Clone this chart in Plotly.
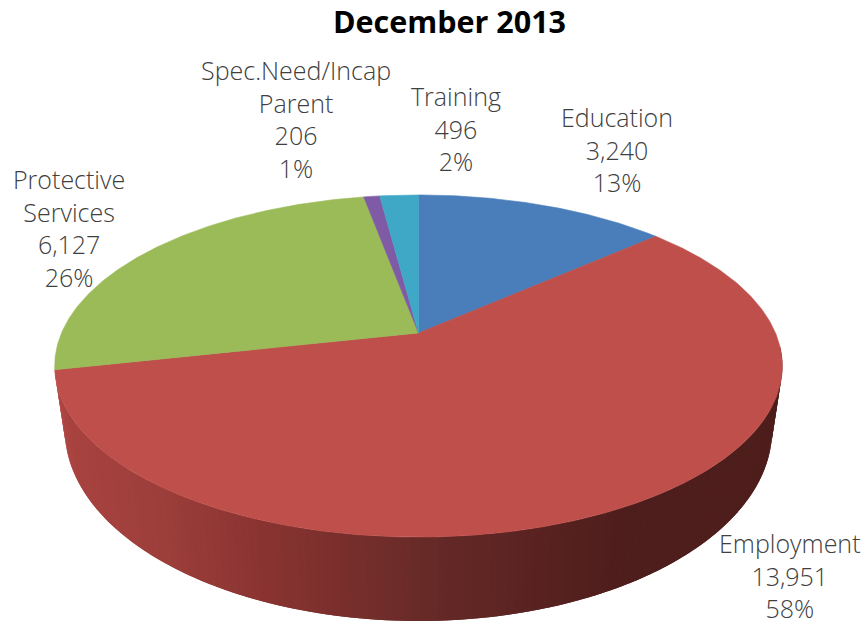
import numpy as np
import plotly.graph_objects as go

categories = ["Education", "Employment", "Protective<br>Services", "Spec.Need/Incap<br>Parent", "Training"]
values = [3240, 13951, 6127, 206, 496]
colors = ["#4A7EBB", "#BE4F4B", "#9BBB59", "#7F5BA6", "#3FA8C6"]
label_x = [617, 790, 69, 296, 456]
label_y = [149, 575, 228, 119, 128]

W, H = 866, 625
CX = 418.5
TOP = dict(cy=333.0, a=357.0, b=164.7, k=0.193)
BOT = dict(cy=393.0, a=347.0, b=184.0, k=0.193)
SIDE_STOPS_X = [55, 70, 150, 250, 420, 520, 620, 783]
SIDE_STOPS_C = [(182, 74, 70), (168, 67, 64), (158, 63, 59), (138, 52, 50),
                (102, 42, 39), (90, 35, 34), (77, 30, 28), (79, 31, 28)]


def project(theta_deg, g):
    t = np.radians(theta_deg)
    w = 1 + g["k"] * np.cos(t)
    return CX + g["a"] * np.sin(t) / w, g["cy"] - g["b"] * np.cos(t) / w


def side_color(x):
    c = [np.interp(x, SIDE_STOPS_X, [s[i] for s in SIDE_STOPS_C]) for i in range(3)]
    return "rgb(%d,%d,%d)" % tuple(c)


total = sum(values)
edges = np.concatenate([[0], np.cumsum(values) / total * 360])
fig = go.Figure()


def poly(x, y, color, lw):
    fig.add_trace(go.Scatter(x=list(x), y=list(y), mode="lines", fill="toself", fillcolor=color,
                             line=dict(color=color, width=lw), hoverinfo="skip", showlegend=False))


# Side wall of the front-facing slice, as narrow shaded strips that overlap to hide seams
side_start, side_end = 95.0, edges[2]
steps = np.linspace(side_start, side_end, 141)
for t0, t1 in zip(steps[:-1], steps[1:]):
    ts = np.array([max(side_start, t0 - 1.2), t1])
    xt, yt = project(ts, TOP)
    xb, yb = project(ts, BOT)
    poly([xt[0], xt[1], xb[1], xb[0], xt[0]], [yt[0], yt[1], yb[1], yb[0], yt[0]],
         side_color((xt[1] + xb[1]) / 2), 0)

# Top face slices
for i, c in enumerate(colors):
    ts = np.linspace(edges[i], edges[i + 1], max(4, int((edges[i + 1] - edges[i]) * 2)))
    xa, ya = project(ts, TOP)
    poly(np.r_[CX, xa, CX], np.r_[TOP["cy"], ya, TOP["cy"]], c, 0.6)

annotations = []
for name, v, lx, ly in zip(categories, values, label_x, label_y):
    annotations.append(dict(x=lx, y=ly, xref="x", yref="y", showarrow=False, align="center",
                            xanchor="center", yanchor="middle",
                            text=f"{name}<br>{v:,}<br>{v / total:.0%}",
                            font=dict(family="Open Sans", size=25, color="#404040", weight=300)))

fig.update_layout(
    width=W, height=H, margin=dict(l=0, r=0, t=0, b=0),
    paper_bgcolor="white", plot_bgcolor="white", showlegend=False,
    title=dict(text="<b>December 2013</b>", x=449.5 / W, y=1 - 22 / H, xanchor="center", yanchor="middle",
               font=dict(family="Open Sans", size=30.5, color="#000000")),
    xaxis=dict(range=[0, W], visible=False, fixedrange=True),
    yaxis=dict(range=[H, 0], visible=False, fixedrange=True),
    annotations=annotations,
)
fig.write_html("out.html", config={"displayModeBar": False},
               post_script="document.body.style.margin='0';document.body.style.overflow='hidden';")
